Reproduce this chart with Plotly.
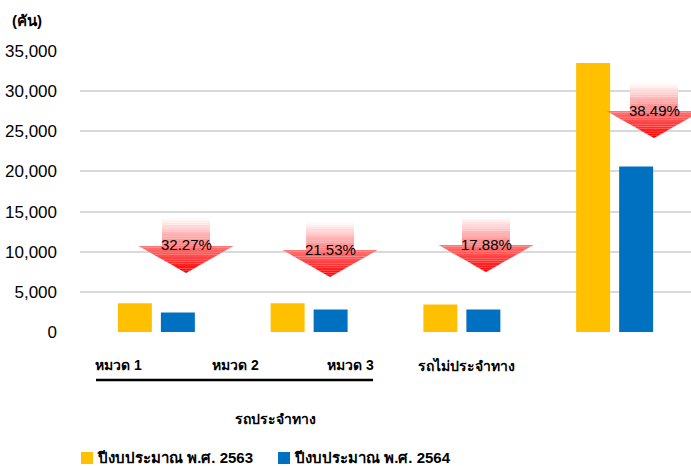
import plotly.graph_objects as go

# ---- data ----
categories = ["หมวด 1", "หมวด 2", "หมวด 3", "รถไม่ประจำทาง"]
series_names = ["ปีงบประมาณ พ.ศ. 2563", "ปีงบประมาณ พ.ศ. 2564"]
values_2563 = [3580, 3570, 3420, 33500]
values_2564 = [2425, 2800, 2810, 20600]
decrease_labels = ["32.27%", "21.53%", "17.88%", "38.49%"]
y_tick_vals = [0, 5000, 10000, 15000, 20000, 25000, 30000, 35000]
group_label = "รถประจำทาง"
unit_label = "(คัน)"

colors = ["#FFC000", "#0070C0"]
FONT = "Liberation Sans, DejaVu Sans, sans-serif"

W, H = 691, 466
ML, MR, MT, MB = 80, 0, 51, 134
PW, PH = W - ML - MR, H - MT - MB
YMAX = 35000

fig = go.Figure()
for name, vals, col in zip(series_names, [values_2563, values_2564], colors):
    fig.add_trace(go.Bar(x=categories, y=vals, name=name, marker_color=col,
                         marker_line_width=0, showlegend=False))

# ---- helpers to convert pixel offsets into data units ----
cat_w = PW / len(categories)
def dx(px):
    return px / cat_w
def dy(px):
    return px / PH * YMAX
def px2paper_x(px):
    return (px - ML) / PW
def py2paper_y(py):
    return (H - MB - py) / PH

# arrow tips: (category index + offset, value)
arrow_tips = [(0.194, 7350), (1.137, 6850), (2.158, 7470), (3.258, 24160)]

shapes = []
annotations = []
N = 24
shaft_hw, head_hw = dx(24), dx(47.5)
head_h, total_h = dy(27), dy(55)

def arrow_halfwidth(h):
    if h <= head_h:
        return head_hw * h / head_h
    return shaft_hw

for (tx, ty), lab in zip(arrow_tips, decrease_labels):
    for i in range(N):
        h0 = total_h * i / N
        h1 = total_h * (i + 1) / N
        t = i / (N - 1)
        g = int(0 + 250 * t)
        col = f"rgb(255,{g},{g})"
        if h0 < head_h < h1:
            poly = [(tx - arrow_halfwidth(h0), ty + h0), (tx - head_hw, ty + head_h),
                    (tx - shaft_hw, ty + head_h), (tx - shaft_hw, ty + h1),
                    (tx + shaft_hw, ty + h1), (tx + shaft_hw, ty + head_h),
                    (tx + head_hw, ty + head_h), (tx + arrow_halfwidth(h0), ty + h0)]
        else:
            w0, w1 = arrow_halfwidth(h0), arrow_halfwidth(h1)
            poly = [(tx - w0, ty + h0), (tx - w1, ty + h1), (tx + w1, ty + h1), (tx + w0, ty + h0)]
        path = "M" + " L".join(f"{x:.5f},{y:.3f}" for x, y in poly) + " Z"
        shapes.append(dict(type="path", xref="x", yref="y", path=path,
                           fillcolor=col, line=dict(width=0), layer="above"))
    annotations.append(dict(x=tx, y=ty + head_h + dy(1), xref="x", yref="y",
                            text=lab, showarrow=False,
                            font=dict(family=FONT, size=15, color="#000")))

# ---- category labels (paper coords) ----
label_px = [118, 235, 350, 466]
for cat, px in zip(categories, label_px):
    annotations.append(dict(x=px2paper_x(px), y=py2paper_y(365), xref="paper", yref="paper",
                            text=f"<b>{cat}</b>", showarrow=False, xanchor="center", yanchor="middle",
                            font=dict(family=FONT, size=14, color="#000")))
annotations.append(dict(x=px2paper_x(233), y=py2paper_y(419), xref="paper", yref="paper",
                        text=f"<b>{group_label}</b>", showarrow=False, yanchor="middle",
                        font=dict(family=FONT, size=14, color="#000")))
annotations.append(dict(x=px2paper_x(10), y=py2paper_y(20), xref="paper", yref="paper",
                        text=f"<b>{unit_label}</b>", showarrow=False, xanchor="left", yanchor="middle",
                        font=dict(family=FONT, size=15, color="#000")))
shapes.append(dict(type="line", xref="paper", yref="paper",
                   x0=px2paper_x(96), x1=px2paper_x(373), y0=py2paper_y(380), y1=py2paper_y(380),
                   line=dict(color="#000", width=2.5)))

# ---- custom legend ----
legend_icon_px = [81, 278]
for name, col, lx in zip(series_names, colors, legend_icon_px):
    shapes.append(dict(type="rect", xref="paper", yref="paper",
                       x0=px2paper_x(lx), x1=px2paper_x(lx + 12),
                       y0=py2paper_y(464), y1=py2paper_y(452),
                       fillcolor=col, line=dict(width=0)))
    annotations.append(dict(x=px2paper_x(lx + 14), y=py2paper_y(457), xref="paper", yref="paper",
                            text=f"<b>{name}</b>", showarrow=False, xanchor="left", yanchor="middle",
                            font=dict(family=FONT, size=15, color="#000")))

fig.update_layout(
    width=W, height=H,
    margin=dict(l=ML, r=MR, t=MT, b=MB, autoexpand=False),
    plot_bgcolor="white", paper_bgcolor="white",
    barmode="group", bargap=0.437, bargroupgap=0.21,
    font=dict(family=FONT, size=16, color="#000"),
    xaxis=dict(showticklabels=False, showgrid=False, zeroline=False, showline=False,
               range=[-0.5, len(categories) - 0.5], fixedrange=True, automargin=False),
    yaxis=dict(range=[0, YMAX], tickvals=y_tick_vals, tickformat=",d",
               showgrid=True, gridcolor="#D9D9D9", gridwidth=2,
               zeroline=False, showline=False, ticks="", ticklabelstandoff=22,
               automargin=False,
               tickfont=dict(family=FONT, size=17, color="#000"), fixedrange=True),
    shapes=shapes,
    annotations=annotations,
    showlegend=False,
)

fig.write_html("out.html", config={"displayModeBar": False},
               post_script="document.body.style.margin='0';document.body.style.overflow='hidden';")
